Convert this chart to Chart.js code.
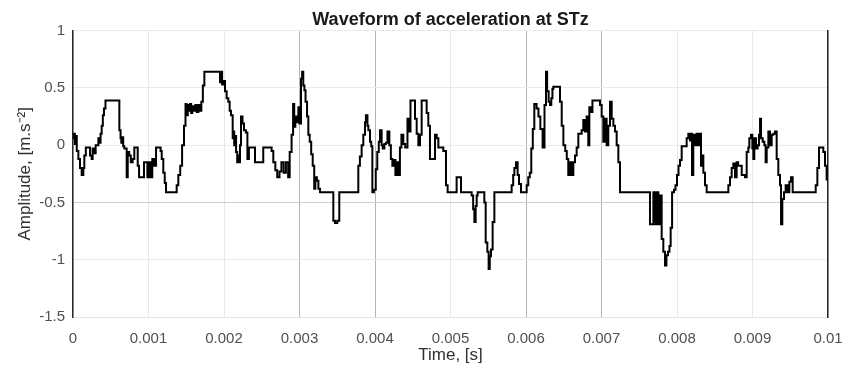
<!DOCTYPE html>
<html>
<head>
<meta charset="utf-8">
<title>Waveform of acceleration at STz</title>
<script src="https://cdn.jsdelivr.net/npm/chart.js@4/dist/chart.umd.min.js"></script>
<style>
  html, body { margin: 0; padding: 0; background: #ffffff; }
  #wrap { width: 842px; height: 369px; }
</style>
</head>
<body>
<div id="wrap"><canvas id="chart" width="842" height="369"></canvas></div>
<script>
// Sample-and-hold acceleration record at STz: each value holds until the next time stamp.
const timeMs = [
  0.000, 0.010, 0.025, 0.040, 0.050, 0.071, 0.093, 0.115, 0.137, 0.150,
  0.170, 0.225, 0.247, 0.260, 0.280, 0.300, 0.336, 0.350, 0.365, 0.380,
  0.395, 0.410, 0.430, 0.614, 0.630, 0.640, 0.650, 0.665, 0.680, 0.711,
  0.725, 0.745, 0.765, 0.790, 0.812, 0.857, 0.875, 0.940, 0.985, 1.000,
  1.010, 1.025, 1.035, 1.050, 1.075, 1.100, 1.160, 1.175, 1.196, 1.215,
  1.232, 1.373, 1.395, 1.420, 1.445, 1.470, 1.490, 1.505, 1.520, 1.535,
  1.550, 1.565, 1.580, 1.600, 1.620, 1.640, 1.660, 1.682, 1.700, 1.720,
  1.740, 1.947, 1.960, 1.975, 1.991, 2.013, 2.035, 2.057, 2.075, 2.093,
  2.115, 2.125, 2.135, 2.146, 2.160, 2.175, 2.190, 2.200, 2.212, 2.225,
  2.245, 2.265, 2.290, 2.310, 2.330, 2.411, 2.520, 2.631, 2.653, 2.680,
  2.705, 2.735, 2.760, 2.790, 2.820, 2.850, 2.870, 2.895, 2.915, 2.930,
  2.945, 2.965, 2.985, 3.000, 3.020, 3.035, 3.050, 3.065, 3.080, 3.100,
  3.117, 3.135, 3.155, 3.175, 3.195, 3.210, 3.230, 3.250, 3.272, 3.448,
  3.470, 3.500, 3.527, 3.779, 3.800, 3.823, 3.845, 3.868, 3.880, 3.900,
  3.912, 3.934, 3.950, 3.965, 3.985, 4.010, 4.030, 4.050, 4.066, 4.088,
  4.102, 4.124, 4.146, 4.165, 4.190, 4.210, 4.230, 4.250, 4.270, 4.290,
  4.310, 4.330, 4.350, 4.375, 4.400, 4.430, 4.450, 4.470, 4.530, 4.552,
  4.574, 4.596, 4.618, 4.684, 4.706, 4.728, 4.795, 4.817, 4.839, 4.905,
  4.940, 4.962, 5.081, 5.139, 5.280, 5.300, 5.316, 5.333, 5.347, 5.360,
  5.448, 5.466, 5.488, 5.505, 5.520, 5.536, 5.558, 5.581, 5.810, 5.830,
  5.846, 5.868, 5.889, 5.907, 5.934, 6.009, 6.030, 6.050, 6.070, 6.090,
  6.110, 6.140, 6.165, 6.190, 6.220, 6.245, 6.265, 6.280, 6.300, 6.318,
  6.335, 6.350, 6.362, 6.450, 6.473, 6.495, 6.520, 6.540, 6.560, 6.583,
  6.605, 6.627, 6.649, 6.671, 6.693, 6.737, 6.759, 6.781, 6.803, 6.825,
  6.839, 6.860, 6.880, 6.980, 7.002, 7.024, 7.046, 7.068, 7.090, 7.113,
  7.135, 7.157, 7.179, 7.201, 7.223, 7.245, 7.642, 7.687, 7.709, 7.731,
  7.753, 7.775, 7.797, 7.819, 7.841, 7.860, 7.880, 7.900, 7.916, 7.935,
  7.960, 7.980, 8.000, 8.020, 8.040, 8.062, 8.128, 8.150, 8.172, 8.185,
  8.199, 8.216, 8.238, 8.260, 8.283, 8.305, 8.318, 8.327, 8.349, 8.371,
  8.393, 8.680, 8.702, 8.724, 8.746, 8.768, 8.790, 8.810, 8.857, 8.901,
  8.923, 8.945, 8.958, 8.980, 8.998, 9.011, 9.024, 9.046, 9.068, 9.086,
  9.100, 9.113, 9.135, 9.157, 9.174, 9.188, 9.210, 9.232, 9.254, 9.276,
  9.298, 9.320, 9.342, 9.364, 9.378, 9.395, 9.417, 9.439, 9.466, 9.488,
  9.510, 9.532, 9.837, 9.859, 9.881, 9.938, 9.960, 9.982, 10.000
];

const accel = [
  0.06, 0.10, 0.01, 0.08, -0.05, -0.12, -0.20, -0.26, -0.20, -0.09,
  -0.02, -0.09, -0.12, -0.03, -0.07, 0.00, 0.06, 0.02, 0.10, 0.17,
  0.26, 0.32, 0.39, 0.13, 0.06, 0.02, 0.07, -0.01, -0.03, -0.28,
  -0.06, -0.09, -0.15, -0.12, -0.02, -0.18, -0.28, -0.15, -0.28, -0.15,
  -0.28, -0.15, -0.28, -0.12, -0.18, -0.02, -0.05, -0.12, -0.24, -0.33,
  -0.41, -0.35, -0.26, -0.18, 0.00, 0.17, 0.36, 0.26, 0.35, 0.30,
  0.36, 0.28, 0.34, 0.30, 0.35, 0.29, 0.35, 0.30, 0.38, 0.52,
  0.64, 0.55, 0.64, 0.53, 0.56, 0.47, 0.41, 0.38, 0.30, 0.26,
  0.06, 0.12, 0.00, 0.08, -0.06, -0.15, -0.09, -0.15, 0.00, 0.25,
  0.19, 0.13, 0.11, -0.12, -0.02, -0.15, -0.02, -0.05, -0.15, -0.22,
  -0.28, -0.23, -0.15, -0.24, -0.15, -0.28, -0.06, 0.09, 0.36, 0.16,
  0.25, 0.20, 0.33, 0.19, 0.58, 0.64, 0.52, 0.48, 0.38, 0.25,
  0.09, 0.03, -0.08, -0.18, -0.38, -0.28, -0.31, -0.38, -0.41, -0.66,
  -0.68, -0.66, -0.41, -0.18, -0.10, 0.00, 0.09, 0.20, 0.26, 0.17,
  0.13, 0.03, -0.01, -0.41, -0.39, -0.21, -0.06, 0.03, 0.13, 0.00,
  -0.03, 0.01, 0.02, 0.12, 0.00, -0.12, -0.18, -0.13, -0.26, -0.15,
  -0.26, -0.02, 0.09, 0.01, -0.02, 0.23, 0.12, 0.39, 0.23, 0.10,
  0.00, 0.09, 0.39, 0.28, 0.17, -0.12, 0.09, 0.06, -0.02, -0.05,
  -0.35, -0.41, -0.28, -0.41, -0.44, -0.56, -0.67, -0.53, -0.44, -0.41,
  -0.50, -0.85, -0.93, -1.08, -0.97, -0.91, -0.67, -0.41, -0.35, -0.26,
  -0.20, -0.15, -0.26, -0.34, -0.41, -0.35, -0.28, -0.24, -0.03, 0.14,
  0.36, 0.32, 0.25, 0.14, -0.02, 0.35, 0.64, 0.47, 0.38, 0.35,
  0.41, 0.49, 0.51, 0.38, 0.17, 0.00, -0.05, -0.12, -0.26, -0.15,
  -0.26, -0.15, -0.09, -0.02, 0.10, 0.13, 0.22, 0.12, 0.25, 0.00,
  0.33, 0.29, 0.39, 0.35, 0.25, 0.03, 0.23, 0.00, 0.17, 0.38,
  0.23, 0.17, 0.12, 0.00, -0.15, -0.41, -0.69, -0.41, -0.69, -0.41,
  -0.69, -0.44, -0.82, -0.93, -1.05, -0.96, -0.93, -0.88, -0.72, -0.41,
  -0.39, -0.35, -0.26, -0.18, -0.13, -0.01, 0.06, 0.10, 0.04, 0.10,
  -0.26, 0.09, 0.00, 0.10, 0.00, 0.10, -0.18, -0.09, -0.24, -0.35,
  -0.41, -0.35, -0.28, -0.20, -0.16, -0.28, -0.15, -0.18, -0.26, -0.28,
  -0.06, -0.02, 0.06, 0.09, -0.03, -0.12, 0.06, -0.03, 0.00, 0.09,
  0.23, 0.06, 0.03, 0.00, -0.15, -0.02, 0.12, 0.00, 0.09, 0.10,
  0.12, -0.12, -0.26, -0.35, -0.69, -0.47, -0.41, -0.35, -0.41, -0.32,
  -0.28, -0.41, -0.35, -0.20, -0.02, -0.06, -0.18, -0.30, -0.30
];

const xTickLabels = ['0', '0.001', '0.002', '0.003', '0.004', '0.005',
                     '0.006', '0.007', '0.008', '0.009', '0.01'];
const yTickLabels = ['-1.5', '-1', '-0.5', '0', '0.5', '1'];

const FONT = "'Liberation Sans', Arial, Helvetica, sans-serif";
const TICK_COLOR = '#505050';

// Gridline shades: a few verticals and the -0.5 line print heavier.
const heavyX = [3, 4, 6, 7];
function xGridColor(ctx) {
  if (!ctx.tick) return '#e8e8e8';
  return heavyX.includes(Math.round(ctx.tick.value * 1000)) ? '#b4b4b4' : '#e8e8e8';
}
function yGridColor(ctx) {
  if (!ctx.tick) return '#ebebeb';
  return Math.abs(ctx.tick.value + 0.5) < 1e-9 ? '#d6caca' : '#ebebeb';
}

const points = timeMs.map((t, i) => ({ x: t / 1000, y: accel[i] }));

new Chart(document.getElementById('chart'), {
  type: 'line',
  data: {
    datasets: [{
      data: points,
      borderColor: '#000000',
      borderWidth: 2,
      pointRadius: 0,
      stepped: true,
      fill: false
    }]
  },
  options: {
    responsive: false,
    animation: false,
    layout: { padding: { left: 0, right: 14, top: 0, bottom: 0 } },
    plugins: {
      legend: { display: false },
      tooltip: { enabled: false },
      title: {
        display: true,
        fullSize: false,
        text: 'Waveform of acceleration at STz',
        color: '#1a1a1a',
        font: { family: FONT, size: 18, weight: 'bold', lineHeight: 1.2 },
        padding: { top: 9, bottom: 0 }
      }
    },
    scales: {
      x: {
        type: 'linear',
        min: 0,
        max: 0.01,
        afterBuildTicks: (s) => { s.ticks = xTickLabels.map(l => ({ value: parseFloat(l) })); },
        afterFit: (s) => { s.height = 52; s.paddingLeft = 0; s.paddingRight = 0; },
        ticks: {
          autoSkip: false,
          maxRotation: 0,
          padding: 13,
          color: TICK_COLOR,
          font: { family: FONT, size: 15 },
          callback: (v, i) => xTickLabels[i]
        },
        grid: { color: xGridColor, drawTicks: false, lineWidth: 1 },
        border: { display: true, color: '#e4e4e4' },
        title: {
          display: true,
          text: 'Time, [s]',
          color: '#303030',
          font: { family: FONT, size: 17 },
          padding: { top: 0, bottom: 3 }
        }
      },
      y: {
        type: 'linear',
        position: 'left',
        min: -1.5,
        max: 1,
        afterBuildTicks: (s) => { s.ticks = yTickLabels.map(l => ({ value: parseFloat(l) })); },
        afterFit: (s) => { s.width = 73; s.paddingTop = 0; s.paddingBottom = 0; },
        ticks: {
          padding: 8,
          color: TICK_COLOR,
          font: { family: FONT, size: 15 },
          callback: (v, i) => yTickLabels[i]
        },
        grid: { color: yGridColor, drawTicks: false, lineWidth: 1 },
        border: { display: true, color: '#262626', width: 1.5 },
        title: {
          display: true,
          text: 'Amplitude, [m.s\u207B\u00B2]',
          color: '#303030',
          font: { family: FONT, size: 17 },
          padding: { top: 15, bottom: 0 }
        }
      },
      yRight: {
        type: 'linear',
        position: 'right',
        min: -1.5,
        max: 1,
        afterFit: (s) => { s.width = 0; },
        ticks: { display: false },
        grid: { drawOnChartArea: false, drawTicks: false },
        border: { display: true, color: '#262626', width: 1.5 }
      }
    }
  }
});
</script>
</body>
</html>
